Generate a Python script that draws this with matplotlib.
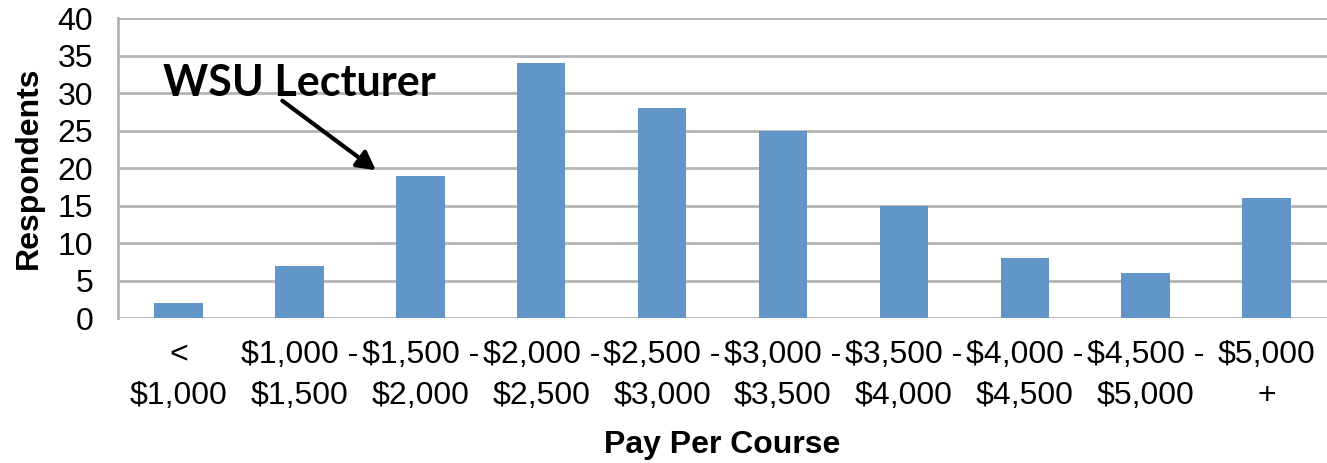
import numpy as np
import matplotlib.pyplot as plt

plt.rcParams['font.family'] = ['Liberation Sans', 'DejaVu Sans']

# pay bands and respondent counts
categories = ["<\n$1,000", "$1,000 -\n$1,500", "$1,500 -\n$2,000", "$2,000 -\n$2,500",
              "$2,500 -\n$3,000", "$3,000 -\n$3,500", "$3,500 -\n$4,000", "$4,000 -\n$4,500",
              "$4,500 -\n$5,000", "$5,000\n+"]
respondents = [2, 7, 19, 34, 28, 25, 15, 8, 6, 16]
y_ticks = [0, 5, 10, 15, 20, 25, 30, 35, 40]

fig = plt.figure(figsize=(13.27, 4.63), dpi=100)
ax = fig.add_axes([0.089, 0.313, 0.911, 0.648])

x = np.arange(len(categories))
ax.bar(x, respondents, width=0.4, color="#6296c9", zorder=3)

ax.set_xlim(-0.5, len(categories) - 0.5)
ax.set_ylim(0, 40)
ax.set_yticks(y_ticks)
ax.set_xticks(x)
ax.set_xticklabels(categories, fontsize=23, linespacing=1.45)
ax.tick_params(axis="x", length=0, pad=16)
ax.tick_params(axis="y", length=0, pad=18, labelsize=23)

ax.yaxis.grid(True, color="#b4b4b4", linewidth=2, zorder=0)
for s in ["top", "right", "bottom"]:
    ax.spines[s].set_visible(False)
ax.spines["left"].set_color("#b4b4b4")
ax.spines["left"].set_linewidth(2)

ax.set_ylabel("Respondents", fontsize=23, fontweight="bold", labelpad=10)
ax.set_xlabel("Pay Per Course", fontsize=23, fontweight="bold", labelpad=14)

# annotation arrow pointing at the WSU pay band
ax.annotate("", xy=(1.65, 19.5), xytext=(0.84, 29.2),
            arrowprops=dict(arrowstyle="-|>,head_width=0.6,head_length=1.1",
                            color="black", lw=3), zorder=5)
ax.text(-0.13, 31.4, "WSU Lecturer", fontsize=31, fontweight="bold",
        family=["Lato", "DejaVu Sans"], va="center", ha="left", zorder=5)

fig.savefig("out.png", dpi=100)
